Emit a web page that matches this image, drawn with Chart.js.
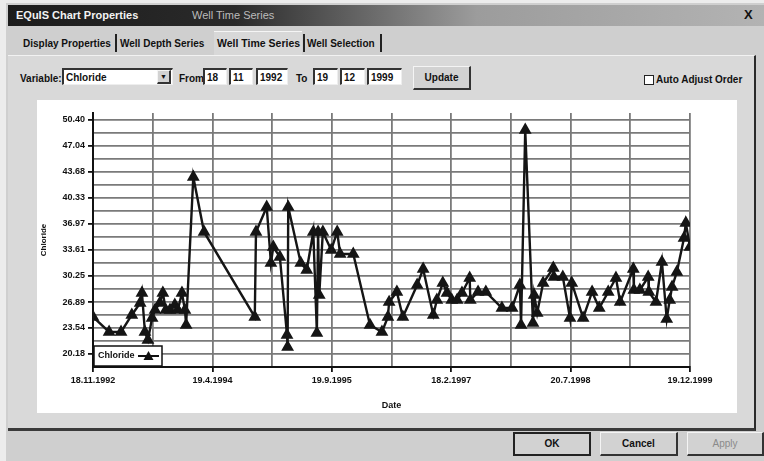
<!DOCTYPE html>
<html>
<head>
<meta charset="utf-8">
<script src="https://cdn.jsdelivr.net/npm/chart.js@4.4.1/dist/chart.umd.min.js"></script>
<style>
  body { margin: 0; width: 764px; height: 461px; overflow: hidden; position: relative;
         background: #ececec; font-family: "Liberation Sans", Arial, sans-serif;
         font-size: 10px; font-weight: bold; color: #111; }
  .a { position: absolute; }
  .box { position: absolute; background: #fff; border-top: 2px solid #333; border-left: 2px solid #333;
         border-right: 1px solid #eee; border-bottom: 1px solid #eee; height: 15px; line-height: 15px;
         padding-left: 2px; box-sizing: border-box; }
  .btn { position: absolute; background: #d2d2d2; border-top: 1px solid #f4f4f4; border-left: 1px solid #f4f4f4;
         border-right: 2px solid #333; border-bottom: 2px solid #333; text-align: center; box-sizing: border-box; }
</style>
</head>
<body>
<!-- dialog -->
<div class="a" style="left:6px;top:3px;width:758px;height:458px;background:#cfcfcf"></div>
<div class="a" style="left:8px;top:5px;width:756px;height:21px;background:linear-gradient(90deg,#1c1c1c 0%,#2a2a2a 30%,#6a6a6a 48%,#9c9c9c 62%,#b3b3b3 100%)"></div>
<div class="a" style="left:16px;top:9px;color:#f2f2f2;font-size:11px">EQuIS Chart Properties</div>
<div class="a" style="left:192px;top:9px;color:#bbb;font-size:11px;font-weight:normal">Well Time Series</div>
<div class="a" style="left:744px;top:7px;font-size:13px;color:#111">X</div>

<!-- tabs -->
<div class="a" style="left:23px;top:38px;font-size:10px">Display Properties</div>
<div class="a" style="left:115px;top:34px;width:2px;height:18px;background:#222"></div>
<div class="a" style="left:120px;top:38px">Well Depth Series</div>
<div class="a" style="left:214px;top:31px;width:88px;height:24px;background:#d8d8d8;border-top:1px solid #f5f5f5"></div>
<div class="a" style="left:217px;top:37px;font-size:10.5px">Well Time Series</div>
<div class="a" style="left:303px;top:34px;width:2px;height:18px;background:#222"></div>
<div class="a" style="left:307px;top:38px">Well Selection</div>
<div class="a" style="left:380px;top:34px;width:2px;height:18px;background:#222"></div>

<!-- tab panel -->
<div class="a" style="left:8px;top:55px;width:746px;height:372px;background:#d9d9d9;border-top:1px solid #f2f2f2;border-right:2px solid #2a2a2a;border-bottom:3px solid #3a3a3a"></div>

<!-- controls -->
<div class="a" style="left:20px;top:73px">Variable:</div>
<div class="box" style="left:62px;top:68px;width:111px;height:17px">Chloride</div>
<div class="btn" style="left:157px;top:70px;width:14px;height:14px;font-size:7px;line-height:11px">&#9660;</div>
<div class="a" style="left:179px;top:73px">From</div>
<div class="box" style="left:203px;top:68px;width:24px;height:17px">18</div>
<div class="box" style="left:229px;top:68px;width:24px;height:17px">11</div>
<div class="box" style="left:256px;top:68px;width:32px;height:17px">1992</div>
<div class="a" style="left:296px;top:73px">To</div>
<div class="box" style="left:313px;top:68px;width:25px;height:17px">19</div>
<div class="box" style="left:340px;top:68px;width:25px;height:17px">12</div>
<div class="box" style="left:367px;top:68px;width:35px;height:17px">1999</div>
<div class="btn" style="left:413px;top:66px;width:58px;height:24px;line-height:21px">Update</div>
<div class="a" style="left:644px;top:75px;width:8px;height:8px;border:1px solid #222;background:#fff"></div>
<div class="a" style="left:656px;top:74px">Auto Adjust Order</div>

<!-- chart panel -->
<div class="a" style="left:37px;top:100px;width:700px;height:313px;background:#fff">
  <canvas id="timeChart" width="700" height="313"></canvas>
</div>

<!-- bottom buttons -->
<div class="btn" style="left:513px;top:432px;width:78px;height:24px;line-height:20px;border:2px solid #222">OK</div>
<div class="btn" style="left:600px;top:432px;width:78px;height:24px;line-height:21px">Cancel</div>
<div class="btn" style="left:687px;top:432px;width:77px;height:24px;line-height:21px;color:#8a8a8a;font-weight:normal">Apply</div>

<script>
// sample times in axis units (10 grid divisions between first and last date)
var sampleTime = [0.00, 0.27, 0.47, 0.65, 0.79, 0.82, 0.87, 0.92, 0.99, 1.04, 1.12, 1.17, 1.22, 1.29, 1.37, 1.42,
  1.49, 1.54, 1.56, 1.68, 1.86, 2.71, 2.73, 2.91, 2.98, 3.02, 3.13, 3.25, 3.26, 3.27, 3.48, 3.58, 3.69, 3.75,
  3.77, 3.79, 3.85, 3.99, 4.09, 4.14, 4.36, 4.64, 4.84, 4.94, 4.96, 5.09, 5.19, 5.43, 5.53, 5.70, 5.76, 5.86,
  5.93, 6.01, 6.10, 6.18, 6.31, 6.32, 6.45, 6.58, 6.85, 7.02, 7.15, 7.17, 7.24, 7.37, 7.39, 7.44, 7.54, 7.71,
  7.72, 7.87, 7.99, 8.02, 8.21, 8.36, 8.48, 8.63, 8.76, 8.83, 9.05, 9.06, 9.16, 9.30, 9.31, 9.43, 9.53, 9.61,
  9.66, 9.70, 9.78, 9.90, 9.93, 10.0];
var chloride = [24.96, 23.02, 23.02, 25.22, 26.77, 28.06, 23.02, 21.99, 24.83, 25.86, 26.77, 28.06, 25.86, 25.86,
  26.51, 25.86, 28.06, 25.86, 23.92, 43.04, 35.94, 24.96, 35.94, 39.16, 31.93, 34.00, 32.71, 22.63, 21.08, 39.16,
  31.93, 31.03, 35.94, 22.89, 35.94, 27.80, 35.94, 33.60, 35.94, 33.09, 33.09, 23.92, 23.02, 24.96, 26.89, 28.19,
  24.96, 29.09, 31.16, 25.22, 27.15, 29.35, 28.06, 27.15, 27.15, 28.06, 29.99, 27.15, 28.19, 28.19, 26.12, 26.12,
  29.09, 23.92, 49.11, 24.18, 27.80, 25.47, 29.35, 31.29, 30.12, 30.12, 24.83, 29.35, 24.83, 28.19, 26.12, 28.19,
  29.99, 26.89, 31.16, 28.45, 28.45, 30.12, 28.19, 26.89, 32.06, 24.70, 27.15, 28.83, 30.77, 35.16, 37.10, 34.00];

var xTickLabels = ["18.11.1992", "19.4.1994", "19.9.1995", "18.2.1997", "20.7.1998", "19.12.1999"];
var yTickLabels = [20.18, 23.54, 26.89, 30.25, 33.61, 36.97, 40.33, 43.68, 47.04, 50.40];
var seriesName = "Chloride";

var points = sampleTime.map(function (t, i) { return { x: t, y: chloride[i] }; });
var halfStep = (yTickLabels[1] - yTickLabels[0]) / 2;

// legend box drawn in lower left of the plot
var legendBox = {
  id: "legendBox",
  afterDraw: function (chart) {
    var ctx = chart.ctx, a = chart.chartArea;
    var x = a.left + 1, y = a.bottom - 21, w = 68, h = 20;
    ctx.save();
    ctx.fillStyle = "#fff";
    ctx.fillRect(x, y, w, h);
    ctx.strokeStyle = "#111";
    ctx.lineWidth = 1.5;
    ctx.strokeRect(x, y, w, h);
    ctx.fillStyle = "#111";
    ctx.font = "bold 9px 'Liberation Sans', Arial";
    ctx.textBaseline = "middle";
    ctx.fillText(chart.data.datasets[0].label, x + 4, y + h / 2);
    ctx.lineWidth = 2;
    ctx.beginPath();
    ctx.moveTo(x + 44, y + h / 2);
    ctx.lineTo(x + 65, y + h / 2);
    ctx.stroke();
    ctx.beginPath();
    ctx.moveTo(x + 54.5, y + h / 2 - 5);
    ctx.lineTo(x + 59.5, y + h / 2 + 4);
    ctx.lineTo(x + 49.5, y + h / 2 + 4);
    ctx.closePath();
    ctx.fill();
    ctx.restore();
  }
};

new Chart("timeChart", {
  type: "line",
  data: {
    datasets: [{
      label: seriesName,
      data: points,
      borderColor: "#151515",
      borderWidth: 2.4,
      pointStyle: "triangle",
      pointRadius: 5,
      pointBackgroundColor: "#151515",
      pointBorderColor: "#151515",
      tension: 0
    }]
  },
  options: {
    responsive: false,
    animation: false,
    layout: { padding: { top: 13, right: 47 } },
    plugins: { legend: { display: false }, tooltip: { enabled: false } },
    scales: {
      x: {
        type: "linear",
        min: 0,
        max: 10,
        afterFit: function (s) { s.height = 46; },
        ticks: {
          stepSize: 1,
          autoSkip: false,
          maxRotation: 0,
          padding: 3,
          color: "#111",
          font: { family: "'Liberation Sans', Arial", size: 9, weight: "bold" },
          callback: function (v) { return v % 2 === 0 ? xTickLabels[v / 2] : ""; }
        },
        grid: {
          color: "#7a7a7a",
          lineWidth: 1.8,
          tickLength: 5,
          tickColor: function (c) { return c.tick && c.tick.value % 2 === 0 ? "#111" : "rgba(0,0,0,0)"; }
        },
        border: { color: "#111", width: 2 },
        title: { display: true, text: "Date", color: "#111", padding: 2,
                 font: { family: "'Liberation Sans', Arial", size: 9, weight: "bold" } }
      },
      y: {
        min: yTickLabels[0] - halfStep,
        max: 51.3,
        afterFit: function (s) { s.width = 56; },
        afterBuildTicks: function (s) {
          var t = [];
          yTickLabels.forEach(function (v) { t.push({ value: v - halfStep }); t.push({ value: v }); });
          s.ticks = t;
        },
        ticks: {
          autoSkip: false,
          padding: 3,
          color: "#111",
          font: { family: "'Liberation Sans', Arial", size: 9, weight: "bold" },
          callback: function (v, i) { return i % 2 === 1 ? yTickLabels[(i - 1) / 2].toFixed(2) : ""; }
        },
        grid: {
          color: "#7a7a7a",
          lineWidth: 1.8,
          tickLength: 5,
          tickColor: function (c) { return c.index % 2 === 1 ? "#111" : "rgba(0,0,0,0)"; }
        },
        border: { color: "#111", width: 2 },
        title: { display: true, text: "Chloride", color: "#111", padding: 2,
                 font: { family: "'Liberation Sans', Arial", size: 8, weight: "bold" } }
      }
    }
  },
  plugins: [legendBox]
});
</script>
</body>
</html>
